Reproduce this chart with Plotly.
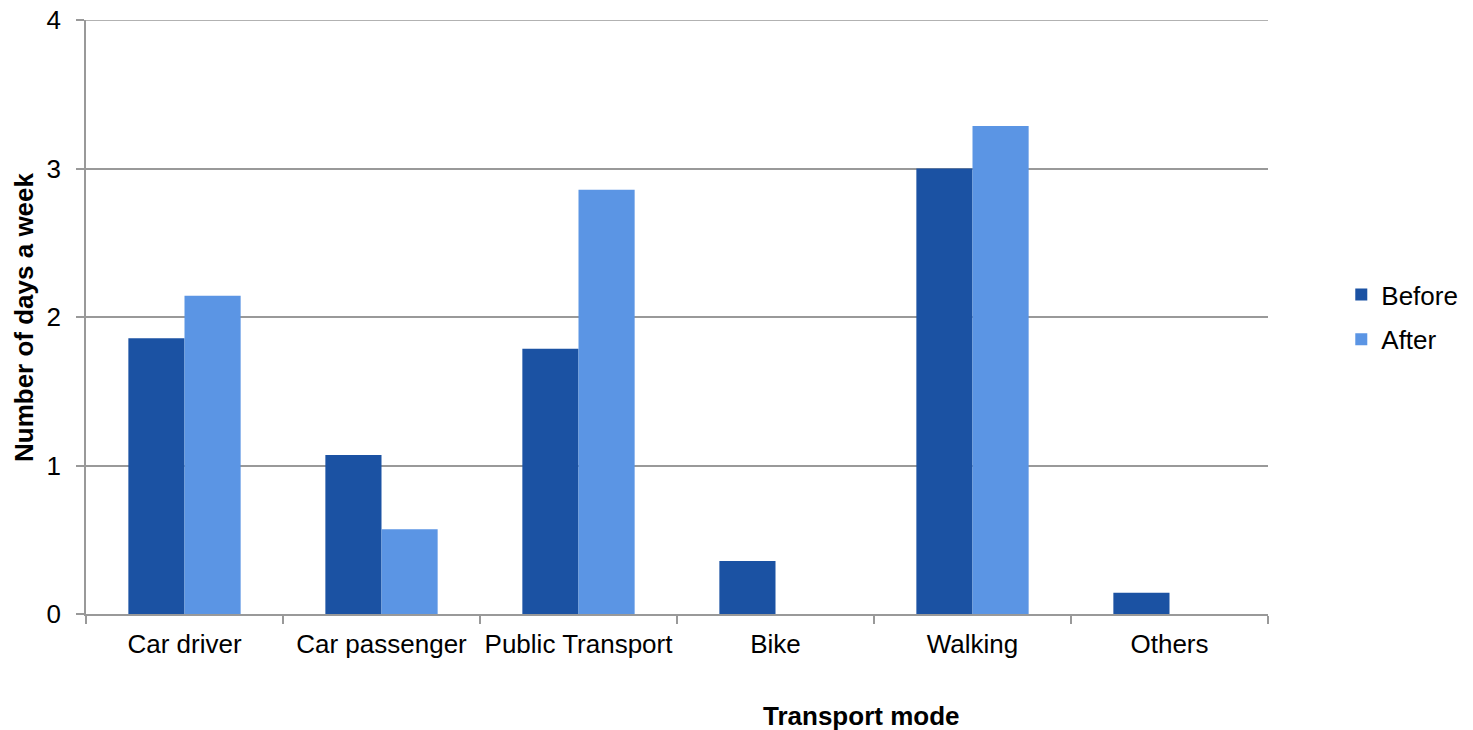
import plotly.graph_objects as go

categories = ["Car driver", "Car passenger", "Public Transport", "Bike", "Walking", "Others"]
before = [1.857, 1.071, 1.786, 0.357, 3.0, 0.143]
after = [2.143, 0.571, 2.857, 0.0, 3.286, 0.0]
y_max = 4

FONT = "Liberation Sans, Arial, sans-serif"
FS = 26
GRID = "#999999"

fig = go.Figure()
fig.add_trace(go.Bar(name="Before", x=categories, y=before, legendgroup="b",
                     marker=dict(color="#1B52A3", line=dict(width=0))))
fig.add_trace(go.Bar(name="After", x=categories, y=after, legendgroup="a",
                     marker=dict(color="#5B95E4", line=dict(width=0))))

fig.update_layout(
    width=1473, height=730,
    margin=dict(l=78, r=213, t=12, b=124, autoexpand=False),
    paper_bgcolor="white", plot_bgcolor="white",
    font=dict(family=FONT, size=FS, color="black"),
    barmode="group", bargap=0.43, bargroupgap=0,
    showlegend=True,
    legend=dict(x=1.062, y=0.5, xanchor="left", yanchor="middle", font=dict(size=FS),
                itemwidth=30, tracegroupgap=8),
    xaxis=dict(
        type="category", tickson="boundaries", ticks="outside", ticklen=8,
        tickcolor=GRID, tickwidth=1.5, tickangle=0,
        showline=True, linecolor=GRID, linewidth=1.5,
        showgrid=False, automargin=False,
        ticklabelstandoff=6,
        tickfont=dict(size=FS),
    ),
    yaxis=dict(
        range=[0, y_max], dtick=1, ticks="outside", ticklen=8,
        tickcolor=GRID, tickwidth=1.5,
        showline=True, linecolor=GRID, linewidth=1.5,
        showgrid=True, gridcolor=GRID, gridwidth=1.5,
        zeroline=False, automargin=False,
        ticklabelstandoff=10, ticklabeloverflow="allow",
        tickfont=dict(size=FS),
    ),
    shapes=[
        dict(type="line", xref="paper", yref="y", x0=0, x1=1, y0=y_max, y1=y_max,
             line=dict(color=GRID, width=1.5), layer="below"),
    ],
    annotations=[
        dict(text="<b>Transport mode</b>", xref="paper", yref="paper", x=0.6557, y=0,
             yshift=-102, xanchor="center", yanchor="middle", showarrow=False,
             font=dict(size=FS)),
        dict(text="<b>Number of days a week</b>", xref="paper", yref="paper", x=0, y=0.5,
             xshift=-62, xanchor="center", yanchor="middle", textangle=-90, showarrow=False,
             font=dict(size=FS)),
    ],
)

fig.write_html("out.html")
